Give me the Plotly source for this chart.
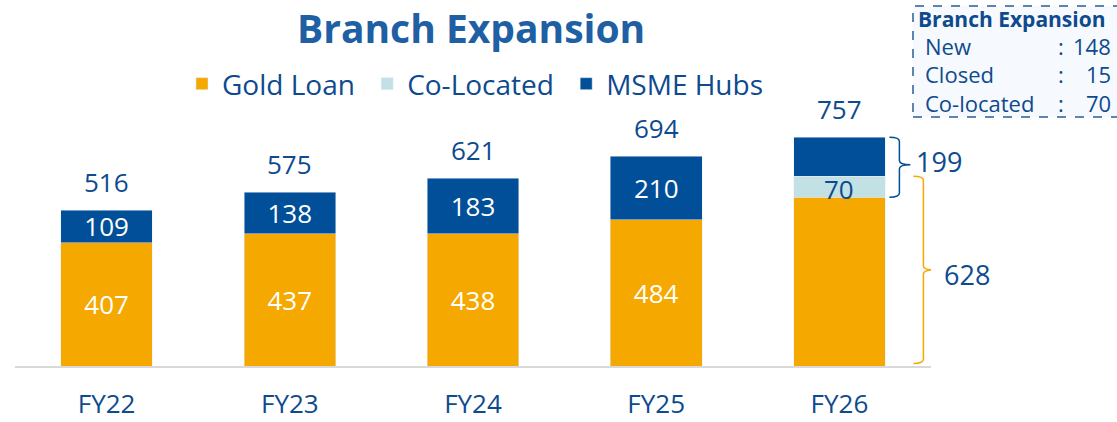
import plotly.graph_objects as go

years = ["FY22", "FY23", "FY24", "FY25", "FY26"]
gold_loan = [407, 437, 438, 484, 558]
co_located = [None, None, None, None, 70]
msme_hubs = [109, 138, 183, 210, 129]
totals = [516, 575, 621, 694, 757]
gold_labels = ["407", "437", "438", "484", ""]
msme_labels = ["109", "138", "183", "210", ""]
brace_upper_label = "199"
brace_lower_label = "628"
box_title = "Branch Expansion"
box_rows = ["New", "Closed", "Co-located"]
box_vals = ["148", "15", "70"]

GOLD = "#F5A800"
TEAL = "#C2E1E5"
NAVY = "#004F98"
TXT = "#0D4A8E"
FONT = "Open Sans"

W, H = 1117, 422
PL, PR, PT, PB = 15, 186, 0, 56
pw, ph = W - PL - PR, H - PT - PB
PXV = 0.3023  # px per unit
YMAX = ph / PXV


def xp(px):
    return (px - PL) / pw


def yp(py):
    return (H - PB - py) / ph


fig = go.Figure()
fig.add_trace(go.Bar(
    x=years, y=gold_loan, name="Gold Loan\u00a0", marker_color=GOLD,
    text=gold_labels, textposition="inside", insidetextanchor="middle", constraintext="none",
    textfont=dict(color="white", size=26, family=FONT), width=0.5,
))
fig.add_trace(go.Bar(
    x=years, y=co_located, name="Co-Located\u00a0", marker_color=TEAL,
    textposition="none", width=0.5,
))
fig.add_trace(go.Bar(
    x=years, y=msme_hubs, name="MSME Hubs", marker_color=NAVY,
    text=msme_labels, textposition="inside", insidetextanchor="middle", constraintext="none",
    textfont=dict(color="white", size=26, family=FONT), width=0.5,
))

ann = []
for yr, t in zip(years, totals):
    ann.append(dict(x=yr, y=t, text=str(t), showarrow=False, xanchor="center", yanchor="bottom",
                    yshift=8, font=dict(size=26, color=TXT, family=FONT)))

last = len(years) - 1
ann.append(dict(x=years[last], y=gold_loan[last] + co_located[last] / 2, text=str(co_located[last]),
                showarrow=False, xanchor="center", yanchor="middle", yshift=-2,
                font=dict(size=26, color=TXT, family=FONT)))


def bx(px):
    return last + (px - 839) / 183.2


def brace(x0, x1, x2, ytop, ybot, ytip, d, color):
    path = (f"M {x0},{ytop} Q {x1},{ytop} {x1},{ytop - d} L {x1},{ytip + d} "
            f"Q {x1},{ytip} {x2},{ytip} Q {x1},{ytip} {x1},{ytip - d} "
            f"L {x1},{ybot + d} Q {x1},{ybot} {x0},{ybot}")
    return dict(type="path", path=path, xref="x", yref="y",
                line=dict(color=color, width=1.5))


upper_top = totals[last]
upper_bot = gold_loan[last]
lower_top = gold_loan[last] + co_located[last]
lower_bot = 8
upper_tip = (upper_top + upper_bot) / 2 + 8
lower_tip = (lower_top + lower_bot) / 2
shapes = [
    brace(bx(889), bx(899), bx(910), upper_top, upper_bot, upper_tip, 14, NAVY),
    brace(bx(913), bx(923), bx(934), lower_top, lower_bot, lower_tip, 14, GOLD),
]
ann.append(dict(xref="paper", x=xp(914), xanchor="left", y=upper_tip + 12, yanchor="middle",
                text=brace_upper_label, showarrow=False, font=dict(size=27, color=TXT, family=FONT)))
ann.append(dict(xref="paper", x=xp(942), xanchor="left", y=lower_tip - 15, yanchor="middle",
                text=brace_lower_label, showarrow=False, font=dict(size=27, color=TXT, family=FONT)))

# title
ann.append(dict(xref="paper", yref="paper", x=xp(471), y=yp(28), xanchor="center", yanchor="middle",
                text="<b>Branch Expansion</b>",
                showarrow=False, font=dict(size=39, color="#1F5FA3", family=FONT)))

# info box
shapes.append(dict(type="rect", xref="paper", yref="paper", x0=xp(913), x1=xp(1160),
                   y0=yp(117), y1=yp(6), fillcolor="#F6F9FD",
                   line=dict(color="#2A5D99", width=1.5, dash="dash"), layer="below"))
ann.append(dict(xref="paper", yref="paper", x=xp(916), xanchor="left", y=yp(19), yanchor="middle",
                text=f"<b>{box_title}</b>",
                showarrow=False, font=dict(size=21, color=TXT, family=FONT)))
for i, (lab, val) in enumerate(zip(box_rows, box_vals)):
    yy = yp(46 + i * 28.5)
    ann.append(dict(xref="paper", yref="paper", x=xp(923), xanchor="left", y=yy, yanchor="middle",
                    text=lab, showarrow=False, font=dict(size=22, color=TXT, family=FONT)))
    ann.append(dict(xref="paper", yref="paper", x=xp(1061), xanchor="center", y=yy, yanchor="middle",
                    text=":", showarrow=False, font=dict(size=22, color=TXT, family=FONT)))
    ann.append(dict(xref="paper", yref="paper", x=xp(1113), xanchor="right", y=yy, yanchor="middle",
                    text=val, showarrow=False, font=dict(size=22, color=TXT, family=FONT)))

fig.update_layout(
    width=W, height=H, barmode="stack",
    margin=dict(l=PL, r=PR, t=PT, b=PB, autoexpand=False),
    plot_bgcolor="white", paper_bgcolor="white",
    font=dict(family=FONT, color=TXT),
    showlegend=True,
    legend=dict(orientation="h", x=xp(182), xanchor="left", y=yp(84), yanchor="middle",
                font=dict(size=28, color=TXT, family=FONT), traceorder="normal",
                itemclick=False, bgcolor="rgba(0,0,0,0)"),
    xaxis=dict(showline=True, linecolor="#D9D9D9", linewidth=2, ticks="",
               tickfont=dict(size=26, color=TXT, family=FONT), showgrid=False,
               ticklabelstandoff=14, automargin=False, range=[-0.5, 4.5], fixedrange=True),
    yaxis=dict(visible=False, range=[0, YMAX], showgrid=False, fixedrange=True),
    annotations=ann, shapes=shapes,
)

fig.write_html("out.html", config={"displayModeBar": False},
               post_script="document.body.style.margin='0';document.body.style.overflow='hidden';")
